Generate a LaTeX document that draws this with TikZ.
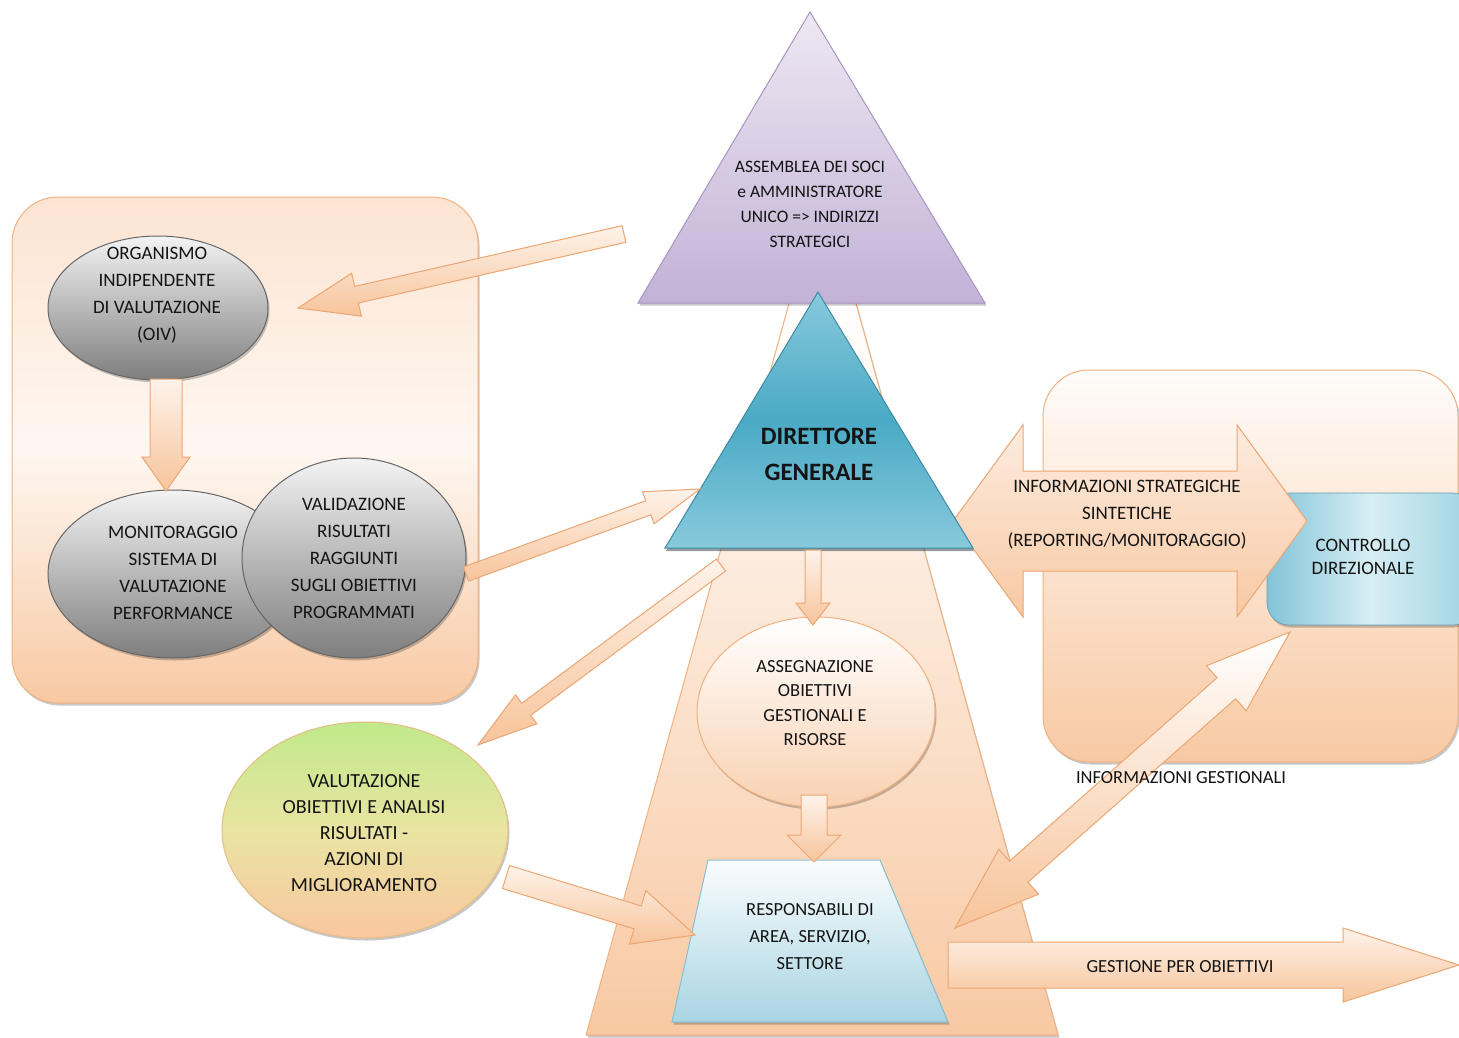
\documentclass[tikz,border=0pt]{standalone}
\usepackage{fontspec}
\setmainfont{Carlito}
\usetikzlibrary{calc,shapes.geometric,shadows}
\definecolor{txtc}{HTML}{141414}
\definecolor{pkL}{HTML}{FEF7F1}
\definecolor{pkM}{HTML}{FCE4D2}
\definecolor{pkD}{HTML}{F8C9A3}
\definecolor{pkLine}{HTML}{F0B281}
\definecolor{arL}{HTML}{FEF3EA}
\definecolor{arD}{HTML}{F7C49B}
\definecolor{arLine}{HTML}{EBA673}
\definecolor{purL}{HTML}{EEE8F2}
\definecolor{purD}{HTML}{C2B2D6}
\definecolor{purLine}{HTML}{A995C4}
\definecolor{tealL}{HTML}{88C9DC}
\definecolor{tealM}{HTML}{4AAAC5}
\definecolor{tealLine}{HTML}{3B8BA5}
\definecolor{grayL}{HTML}{F3F3F3}
\definecolor{grayD}{HTML}{7E7E7E}
\definecolor{grayLine}{HTML}{666666}
\definecolor{grnT}{HTML}{C0E98A}
\definecolor{grnM}{HTML}{E9E4A2}
\definecolor{grnB}{HTML}{F9C79F}
\definecolor{bluL}{HTML}{FAFDFE}
\definecolor{bluD}{HTML}{A8D4E2}
\definecolor{bluLine}{HTML}{86C0D3}
\definecolor{ctrlA}{HTML}{82C4D8}
\definecolor{ctrlB}{HTML}{D8EEF4}
\definecolor{ctrlC}{HTML}{9DD3E2}

% single block arrow: tail, tip, shaft half width, head half width, head length, style
\newcommand{\blockarrow}[6]{%
  \coordinate (#1-#2-h) at ($(#2)!#5!(#1)$);
  \path[#6] ($(#1)!#3!90:(#2)$) -- ($(#1-#2-h)!#3!90:(#2)$) -- ($(#1-#2-h)!#4!90:(#2)$) -- (#2)
     -- ($(#1-#2-h)!#4!-90:(#2)$) -- ($(#1-#2-h)!#3!-90:(#2)$) -- ($(#1)!#3!-90:(#2)$) -- cycle;
}
% double block arrow: tip A, tip B, shaft half width, head half width, head length, style
\newcommand{\dblarrow}[6]{%
  \coordinate (#1-#2-ha) at ($(#1)!#5!(#2)$);
  \coordinate (#1-#2-hb) at ($(#2)!#5!(#1)$);
  \path[#6] (#1) -- ($(#1-#2-ha)!#4!-90:(#1)$) -- ($(#1-#2-ha)!#3!-90:(#1)$)
     -- ($(#1-#2-hb)!#3!90:(#2)$) -- ($(#1-#2-hb)!#4!90:(#2)$) -- (#2)
     -- ($(#1-#2-hb)!#4!-90:(#2)$) -- ($(#1-#2-hb)!#3!-90:(#2)$)
     -- ($(#1-#2-ha)!#3!90:(#1)$) -- ($(#1-#2-ha)!#4!90:(#1)$) -- cycle;
}

\begin{document}
\begin{tikzpicture}[x=1pt,y=-1pt,
  txt/.style={align=center,inner sep=0pt,text=txtc,font=\fontsize{19}{27}\selectfont},
  shad/.style={drop shadow={shadow xshift=1.5pt,shadow yshift=-2.5pt,opacity=0.22,fill=black}},
  peachbox/.style={draw=pkLine,line width=1pt,rounded corners=46pt,top color=pkM,bottom color=pkD,middle color=pkL,shad},
  blockar/.style={draw=arLine,line width=1pt,top color=arL,bottom color=arD},
  grayell/.style={ellipse,inner sep=0pt,draw=grayLine,line width=1pt,top color=grayL,bottom color=grayD,shad},
]
\useasboundingbox (0,0) rectangle (1459,1038);
\fill[white] (0,0) rectangle (1459,1038);

% central trapezoid (background pyramid)
\coordinate (tzTL) at (790,300);
\coordinate (tzTR) at (855,300);
\coordinate (tzBR) at (1058,1035);
\coordinate (tzBL) at (586,1035);
\path[draw=pkLine,line width=1pt,top color=white,bottom color=pkD,shad] (tzTL) -- (tzTR) -- (tzBR) -- (tzBL) -- cycle;

% left and right group boxes
\path[peachbox] (12,197) rectangle (478,703);
\coordinate (lbox) at (245,450);
\path[draw=pkLine,line width=1pt,rounded corners=46pt,top color=pkL!40!white,bottom color=pkD,shad] (1043,370) rectangle (1458,762);
\coordinate (rbox) at (1250,566);

% controllo direzionale box
\path[rounded corners=22pt,left color=ctrlA,right color=ctrlC,middle color=ctrlB,draw=ctrlA!80!black,line width=0.6pt,shad] (1267,493) rectangle (1475,625);
\node[txt,font=\fontsize{19}{23}\selectfont] (ctrl) at (1363,557) {CONTROLLO\\DIREZIONALE};

% double arrow: strategic information
\coordinate (dsL) at (953,521);
\coordinate (dsR) at (1307,521);
\dblarrow{dsL}{dsR}{50pt}{96pt}{70pt}{draw=arLine,line width=1pt,top color=pkM!70!white,bottom color=pkD}
\node[txt] (strat) at (1127,515) {INFORMAZIONI STRATEGICHE\\SINTETICHE\\(REPORTING/MONITORAGGIO)};

% purple triangle
\coordinate (puA) at (810,12);
\coordinate (puL) at (638,303);
\coordinate (puR) at (985,303);
\path[draw=purLine,line width=1pt,top color=purL,bottom color=purD,shad] (puA) -- (puR) -- (puL) -- cycle;
\node[txt,font=\fontsize{17.5}{25}\selectfont] (assemblea) at (810,204.5) {ASSEMBLEA DEI SOCI\\e AMMINISTRATORE\\UNICO => INDIRIZZI\\STRATEGICI};

% Direttore generale triangle
\coordinate (dgA) at (818,292);
\coordinate (dgL) at (665,548);
\coordinate (dgR) at (973,548);
\path[draw=tealLine,line width=1pt,top color=tealL,bottom color=tealL,middle color=tealM,drop shadow={shadow xshift=1pt,shadow yshift=-3pt,opacity=0.45,fill=black!70!tealLine}] (dgA) -- (dgR) -- (dgL) -- cycle;
\node[txt,font=\fontsize{25}{36}\selectfont\bfseries] (dg) at (819,454) {DIRETTORE\\GENERALE};

% left group: OIV, monitoraggio, validazione
\node[grayell,minimum width=220pt,minimum height=144pt] (oiv) at (158,308) {};
\node[txt] (oivt) at (157,295) {ORGANISMO\\INDIPENDENTE\\DI VALUTAZIONE\\(OIV)};
\node[grayell,minimum width=250pt,minimum height=168pt] (mon) at (173,574) {};
\node[txt] (mont) at (173,573) {MONITORAGGIO\\SISTEMA DI\\VALUTAZIONE\\PERFORMANCE};
\node[grayell,minimum width=224pt,minimum height=200pt] (val) at (354,558) {};
\node[txt] (valt) at (354,558) {VALIDAZIONE\\RISULTATI\\RAGGIUNTI\\SUGLI OBIETTIVI\\PROGRAMMATI};

% arrow OIV -> monitoraggio
\coordinate (a7t) at (166,379);
\coordinate (a7h) at (166,491);
\blockarrow{a7t}{a7h}{16pt}{24pt}{34pt}{blockar}

% green ellipse
\node[ellipse,inner sep=0pt,minimum width=286pt,minimum height=216pt,draw=pkLine!80!grnT,line width=1pt,top color=grnT,bottom color=grnB,middle color=grnM,shad] (grn) at (365,830) {};
\node[txt,font=\fontsize{20}{25.8}\selectfont] (grnt) at (364,833) {VALUTAZIONE\\OBIETTIVI E ANALISI\\RISULTATI -\\AZIONI DI\\MIGLIORAMENTO};

% assegnazione ellipse
\node[ellipse,inner sep=0pt,minimum width=238pt,minimum height=190pt,draw=pkLine,line width=1pt,top color=white,bottom color=pkD!85!white,shad] (ass) at (816,712) {};
\node[txt,font=\fontsize{18.5}{24.5}\selectfont] (asst) at (815,703) {ASSEGNAZIONE\\OBIETTIVI\\GESTIONALI E\\RISORSE};

% responsabili trapezoid
\coordinate (reTL) at (708,860);
\coordinate (reTR) at (880,860);
\coordinate (reBR) at (948,1022);
\coordinate (reBL) at (672,1022);
\path[draw=bluLine,line width=1pt,top color=bluL,bottom color=bluD,shad] (reTL) -- (reTR) -- (reBR) -- (reBL) -- cycle;
\node[txt,font=\fontsize{18.5}{27}\selectfont] (resp) at (810,937) {RESPONSABILI DI\\AREA, SERVIZIO,\\SETTORE};

% arrows
\coordinate (a1t) at (624,234);
\coordinate (a1h) at (298,308);
\blockarrow{a1t}{a1h}{8.5pt}{22pt}{60pt}{blockar}

\coordinate (a2t) at (466,574);
\coordinate (a2h) at (700,489);
\blockarrow{a2t}{a2h}{7.5pt}{17pt}{55pt}{blockar}

\coordinate (a3t) at (721,565);
\coordinate (a3h) at (478,745);
\blockarrow{a3t}{a3h}{7.5pt}{18pt}{60pt}{blockar}

\coordinate (a4t) at (506,877);
\coordinate (a4h) at (695,935);
\blockarrow{a4t}{a4h}{12pt}{28pt}{60pt}{blockar}

\coordinate (a5t) at (813,550);
\coordinate (a5h) at (813,625);
\blockarrow{a5t}{a5h}{8pt}{17pt}{22pt}{blockar}

\coordinate (a6t) at (814,795);
\coordinate (a6h) at (814,862);
\blockarrow{a6t}{a6h}{13pt}{27pt}{27pt}{blockar}

\coordinate (a8t) at (948,965);
\coordinate (a8h) at (1459,965);
\blockarrow{a8t}{a8h}{23pt}{37pt}{116pt}{blockar}
\node[txt,font=\fontsize{18.5}{24}\selectfont] (gest) at (1180,967) {GESTIONE PER OBIETTIVI};

% double arrow: management information
\coordinate (dgL2) at (955,928);
\coordinate (dgU2) at (1290,632);
\dblarrow{dgL2}{dgU2}{14pt}{30pt}{85pt}{draw=arLine,line width=1pt,top color=white,bottom color=arD}
\node[txt,font=\fontsize{18.5}{24}\selectfont] (infog) at (1181,778) {INFORMAZIONI GESTIONALI};

\end{tikzpicture}
\end{document}
